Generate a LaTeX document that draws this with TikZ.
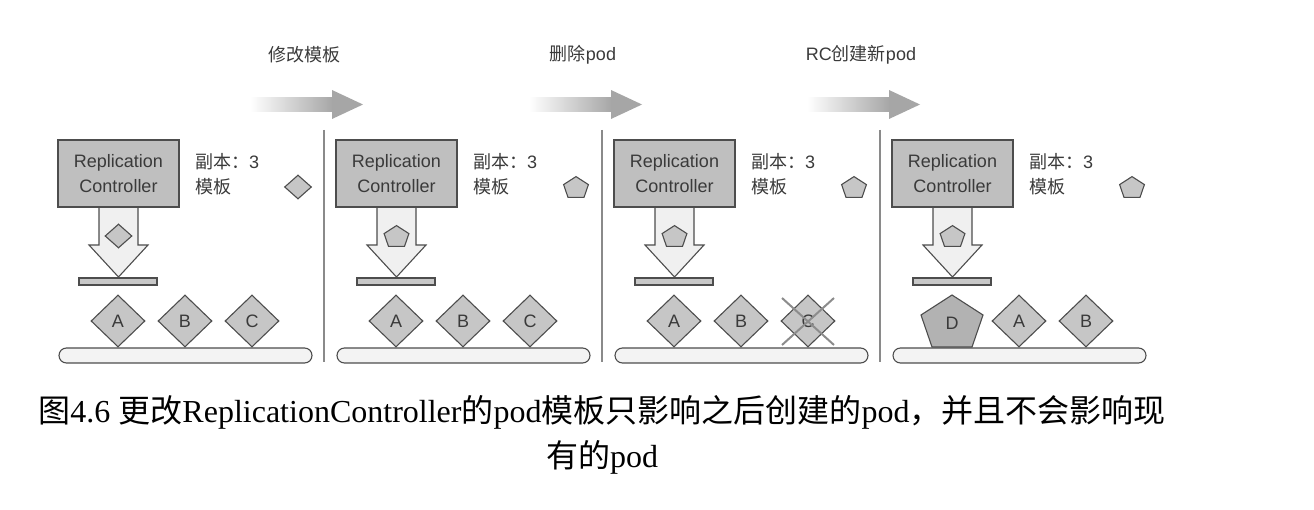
\documentclass[tikz,border=0pt]{standalone}
\usepackage{fontspec}
\setmainfont{Liberation Serif}
\setsansfont{Liberation Sans}
\newfontfamily\cjk{Noto Sans CJK SC}
\newcommand\zh[1]{{\cjk #1}}
\usetikzlibrary{shapes.geometric}
\definecolor{edgecol}{HTML}{4D4D4D}
\definecolor{boxgray}{HTML}{BFBFBF}
\definecolor{podgray}{HTML}{C6C6C6}
\definecolor{dgray}{HTML}{B2B2B2}
\definecolor{arrfill}{HTML}{F0F0F0}
\definecolor{barfill}{HTML}{C8C8C8}
\definecolor{basefill}{HTML}{F3F3F3}
\definecolor{sepcol}{HTML}{8A8A8A}
\definecolor{arrgray}{HTML}{A6A6A6}
\definecolor{txtcol}{HTML}{3A3A3A}
\definecolor{crosscol}{HTML}{8C8C8C}
\tikzset{
  rcbox/.style={draw=edgecol, fill=boxgray, line width=1.1pt, minimum width=121pt, minimum height=67pt, align=center, inner sep=0pt, text=txtcol, font=\sffamily\fontsize{18}{25}\selectfont},
  lbl/.style={anchor=west, inner sep=0pt, text=txtcol, font=\sffamily\fontsize{18}{22}\selectfont},
  toplbl/.style={inner sep=0pt, text=txtcol, font=\sffamily\fontsize{18}{22}\selectfont},
  podshape/.style={draw=edgecol, fill=podgray, line width=1.1pt},
  dshape/.style={draw=edgecol, fill=dgray, line width=1.1pt},
  pod/.style={shape=diamond, draw=edgecol, fill=podgray, line width=1.1pt, minimum width=54pt, minimum height=52pt, inner sep=0pt, text=txtcol, font=\sffamily\fontsize{18}{22}\selectfont},
  smalldia/.style={shape=diamond, draw=edgecol, fill=podgray, line width=1.1pt, minimum width=27pt, minimum height=24pt, inner sep=0pt},
  podtext/.style={inner sep=0pt, text=txtcol, font=\sffamily\fontsize{18}{22}\selectfont},
  downarr/.style={draw=edgecol, fill=arrfill, line width=1.1pt, line join=miter},
  barbox/.style={draw=edgecol, fill=barfill, line width=1.1pt, minimum width=78pt, minimum height=7pt, inner sep=0pt},
  basebox/.style={draw=edgecol, fill=basefill, line width=1.1pt, minimum width=253pt, minimum height=15pt, inner sep=0pt, rounded corners=7.5pt},
  sepline/.style={draw=sepcol, line width=1.3pt},
  crossline/.style={draw=crosscol, line width=2pt},
  pentpic/.pic={\path[podshape] (0,-26) -- (31,-6) -- (20,26) -- (-20,26) -- (-31,-6) -- cycle;},
  bigpent/.pic={\path[dshape] (0,-26) -- (31,-6) -- (20,26) -- (-20,26) -- (-31,-6) -- cycle;},
}
\begin{document}
\begin{tikzpicture}[x=1pt,y=-1pt]
\useasboundingbox (0,0) rectangle (1314,510);

% top step arrows and labels
\foreach \i/\dx/\t in {1/0/{\zh{修改模板}},2/279/{\zh{删除}pod},3/557/{RC\zh{创建新}pod}}{
  \begin{scope}[xshift=\dx pt]
    \shade[left color=white, right color=arrgray] (250,98) rectangle (333,112);
    \fill[arrgray] (332,90) -- (363,104.5) -- (332,119) -- cycle;
    \node[toplbl] (step\i) at (304,55) {\t};
  \end{scope}
}

% common panel parts
\foreach \i/\dx in {1/0,2/278,3/556,4/834}{
  \begin{scope}[xshift=\dx pt]
    \path[downarr] (99,205) -- (138,205) -- (138,245) -- (148,245) -- (118.5,277) -- (89,245) -- (99,245) -- cycle;
    \node[rcbox] (rc\i) at (118.5,173.5) {Replication\\Controller};
    \node[lbl] (rep\i) at (195,162) {\zh{副本：}3};
    \node[lbl] (tpl\i) at (195,187) {\zh{模板}};
    \node[barbox] (bar\i) at (118,281.5) {};
    \node[basebox] (base\i) at (185.5,355.5) {};
  \end{scope}
}

% separators
\draw[sepline] (324,130) -- (324,362);
\draw[sepline] (602,130) -- (602,362);
\draw[sepline] (880,130) -- (880,362);

% panel 1
\node[smalldia] (t1) at (298,187) {};
\node[smalldia] (s1) at (118.5,236) {};
\node[pod] (p1a) at (118,321) {A};
\node[pod] (p1b) at (185,321) {B};
\node[pod] (p1c) at (252,321) {C};

% panel 2
\node[pod] (p2a) at (396,321) {A};
\node[pod] (p2b) at (463,321) {B};
\node[pod] (p2c) at (530,321) {C};

% panel 3
\node[pod] (p3a) at (674,321) {A};
\node[pod] (p3b) at (741,321) {B};
\node[pod] (p3c) at (808,321) {C};
\draw[crossline] (782,298) -- (834,345);
\draw[crossline] (834,298) -- (782,345);

% panel 4
\pic at (952,321) {bigpent};
\node[podtext] (p4d) at (952,323) {D};
\node[pod] (p4a) at (1019,321) {A};
\node[pod] (p4b) at (1086,321) {B};

% small template pentagons
\foreach \dx in {278,556,834}{
  \pic[scale=0.4] at (298+\dx,187) {pentpic};
  \pic[scale=0.4] at (118.5+\dx,236) {pentpic};
}

% caption
\node[align=center, inner sep=0pt, font=\fontsize{32}{45}\selectfont] (cap) at (602,435)
  {\zh{图}4.6 \zh{更改}ReplicationController\zh{的}pod\zh{模板只影响之后创建的}pod\zh{，并且不会影响现}\\\zh{有的}pod};
\end{tikzpicture}
\end{document}
